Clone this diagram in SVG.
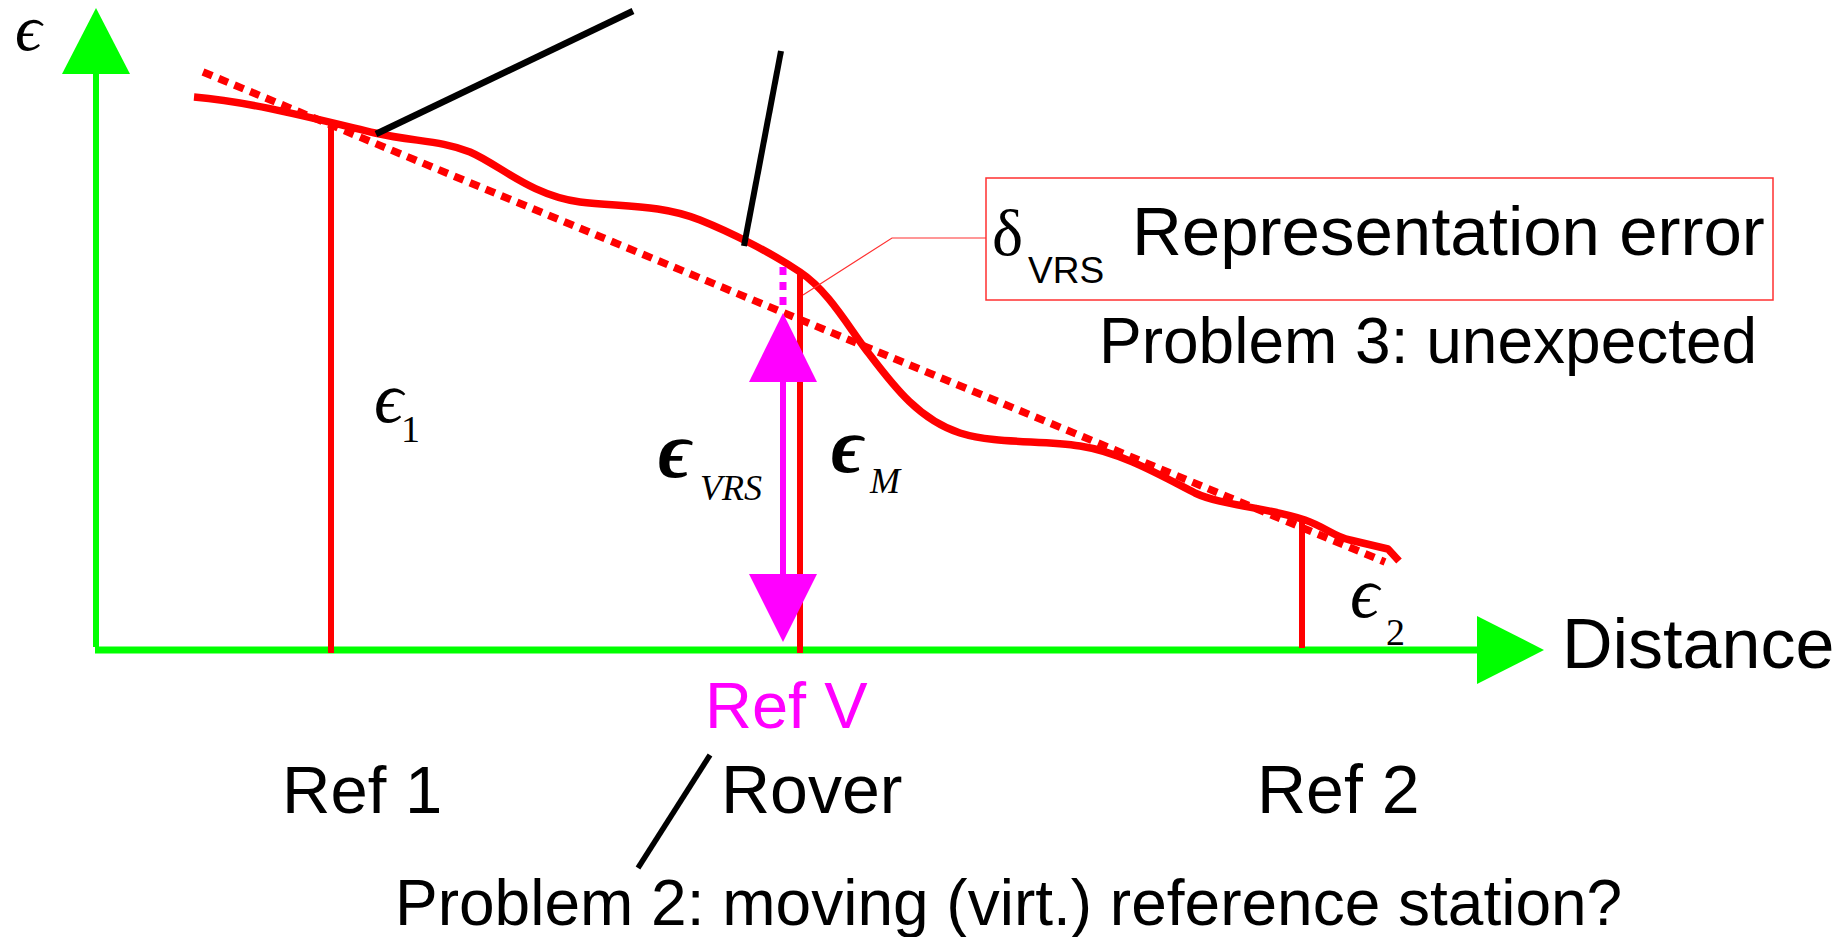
<svg xmlns="http://www.w3.org/2000/svg" width="1842" height="937" viewBox="0 0 1842 937">
<style>
.sans{font-family:"Liberation Sans",Arial,sans-serif;fill:#000}
.ser{font-family:"Liberation Serif","DejaVu Serif",serif;fill:#000}
.it{font-style:italic}
.axis{stroke:#00ff00;fill:none}
.red{stroke:#ff0000;fill:none}
.blk{stroke:#000;fill:none;stroke-linecap:butt}
</style>
<rect width="1842" height="937" fill="#fff"/>
<g id="axes">
<line class="axis" x1="96" y1="72" x2="96" y2="647" stroke-width="6"/>
<polygon points="96,8 62,74 130,74" fill="#00ff00"/>
<line class="axis" x1="95" y1="650" x2="1478" y2="650" stroke-width="7"/>
<polygon points="1544,650 1477,616 1477,684" fill="#00ff00"/>
<text class="ser it" x="15" y="50" font-size="66">ϵ</text>
<text class="sans" x="1562" y="668" font-size="70">Distance</text>
</g>
<g id="curves">
<line class="red" x1="203" y1="72" x2="1385" y2="562" stroke-width="7.5" stroke-dasharray="10 7"/>
<path class="red" stroke-width="7.5" stroke-linejoin="round" d="M194,97 C250,102 300,115 375,133 C415,142 440,140 470,152 C500,165 530,195 580,202 C620,207 660,204 700,220 C730,232 770,252 800,272 C830,292 850,330 870,355 C895,388 920,420 960,433 C995,444 1040,440 1080,446 C1120,452 1160,475 1195,493 C1220,505 1270,508 1305,520 C1325,527 1335,537 1350,540 L1388,549 L1399,561"/>
</g>
<g id="ref1">
<line class="red" x1="331" y1="122" x2="331" y2="653" stroke-width="6"/>
<text class="ser it" x="374" y="422" font-size="72">ϵ</text>
<text class="ser" x="401" y="442" font-size="38">1</text>
<text class="sans" x="282" y="813" font-size="67">Ref 1</text>
</g>
<g id="rover">
<line class="red" x1="800" y1="273" x2="800" y2="653" stroke-width="6"/>
<text class="ser it" x="831" y="472" font-size="78" font-weight="bold">ϵ</text>
<text class="ser it" x="870" y="493" font-size="36">M</text>
<text class="sans" x="721" y="813" font-size="68">Rover</text>
</g>
<g id="refv">
<line x1="783" y1="267" x2="783" y2="308" stroke="#ff00ff" stroke-width="7" stroke-dasharray="8 7"/>
<line x1="783" y1="380" x2="783" y2="576" stroke="#ff00ff" stroke-width="6"/>
<polygon points="783,313 749,382 817,382" fill="#ff00ff"/>
<polygon points="783,642 749,574 817,574" fill="#ff00ff"/>
<text class="ser it" x="658" y="477" font-size="80" font-weight="bold">ϵ</text>
<text class="ser it" x="700" y="500" font-size="36">VRS</text>
<text class="sans" x="705" y="728" font-size="65" style="fill:#ff00ff">Ref V</text>
</g>
<g id="ref2">
<line class="red" x1="1302" y1="520" x2="1302" y2="648" stroke-width="6"/>
<text class="ser it" x="1350" y="617" font-size="72">ϵ</text>
<text class="ser" x="1386" y="645" font-size="38">2</text>
<text class="sans" x="1257" y="813" font-size="68">Ref 2</text>
</g>
<g id="repr-error">
<rect x="986" y="178" width="787" height="122" fill="none" stroke="#ff3030" stroke-width="1.5"/>
<text class="ser" x="992" y="255" font-size="66">δ</text>
<text class="sans" x="1028" y="283" font-size="37">VRS</text>
<text class="sans" x="1132" y="255" font-size="69">Representation error</text>
<text class="sans" x="1099" y="363" font-size="64">Problem 3: unexpected</text>
</g>
<g id="problem2">
<text class="sans" x="395" y="925" font-size="64">Problem 2: moving (virt.) reference station?</text>
</g>
<g id="connectors">
<line class="blk" x1="376" y1="134" x2="633" y2="11" stroke-width="6.5"/>
<line class="blk" x1="781" y1="51" x2="744" y2="246" stroke-width="6"/>
<line class="blk" x1="710" y1="755" x2="638" y2="868" stroke-width="5.5"/>
<polyline points="803,295 892,238 986,238" fill="none" stroke="#ff3030" stroke-width="1.2"/>
</g>
</svg>
